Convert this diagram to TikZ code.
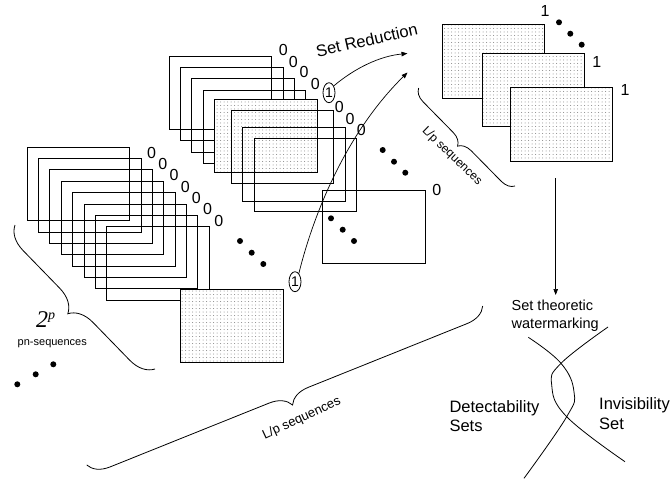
\documentclass[tikz,border=0pt]{standalone}
\usepackage{fontspec}
\setmainfont{Liberation Sans}
\newfontfamily\seriffont{Liberation Serif}
\usetikzlibrary{patterns,patterns.meta,decorations.pathreplacing,arrows.meta,shapes.geometric}
\newcommand{\fsz}[1]{\fontsize{#1}{#1}\selectfont}
\begin{document}
\begin{tikzpicture}[x=1pt,y=-1pt,
  frame/.style={draw, line width=1pt, anchor=north west, minimum width=102.5pt, minimum height=73.5pt, inner sep=0pt, outer sep=0pt},
  dotbox/.style={frame, preaction={fill=white}, pattern={Dots[distance=3.5pt, radius=0.5pt]}, pattern color=gray},
  zero/.style={font=\fsz{16}, inner sep=0pt},
  one/.style={font=\fsz{16}, inner sep=0pt},
  oval/.style={ellipse, draw, line width=0.8pt, minimum width=12pt, minimum height=20pt, inner sep=0pt, font=\fsz{14}},
  bigdot/.style={circle, fill=black, minimum size=6pt, inner sep=0pt},
  arr/.style={line width=0.7pt, -{Triangle[length=6pt,width=4.5pt]}},
  thin/.style={line width=0.8pt},
  bracestyle/.style={line width=0.8pt, decorate, decoration={brace, amplitude=#1}}
]
\useasboundingbox[fill=white] (0,0) rectangle (671,480);

% ---------- left stack ----------
\foreach \i in {0,...,7}
  \node[frame] (L\i) at ({27.3+11.34*\i},{147.3+11.34*\i}) {};
\foreach \i in {0,...,6}
  \node[zero] (LZ\i) at ({151.6+11.2*\i},{152.8+11.3*\i}) {0};
\node[dotbox] (LD) at (180.7,289.3) {};
\node[bigdot] (LB1) at (240,241) {};
\node[bigdot] (LB2) at (251.7,252.7) {};
\node[bigdot] (LB3) at (263.3,264) {};
\node[oval] (C2) at (295,281.7) {1};

% ---------- middle stack ----------
\foreach \i in {0,...,3}
  \node[frame] (M\i) at ({169.3+11.33*\i},{56+11.43*\i}) {};
\node[dotbox] (MD) at (214.7,99) {};
\node[frame] (M5) at (231.3,110) {};
\node[frame] (M6) at (242.7,127.7) {};
\node[frame] (M7) at (254.3,138.3) {};
\node[frame] (MLast) at (322.7,190) {};
\node[zero] (MZ0) at (283.3,50) {0};
\node[zero] (MZ1) at (293.3,61.7) {0};
\node[zero] (MZ2) at (304,72.3) {0};
\node[zero] (MZ3) at (315.3,84.3) {0};
\node[oval] (C1) at (329,92.7) {1};
\node[zero] (MZ5) at (339.3,106.7) {0};
\node[zero] (MZ6) at (350,119) {0};
\node[zero] (MZ7) at (361.3,130) {0};
\node[zero] (MZ8) at (436.7,190) {0};
\node[bigdot] (MB1) at (382.7,150) {};
\node[bigdot] (MB2) at (394,161.7) {};
\node[bigdot] (MB3) at (405.3,172.7) {};
\node[bigdot] (NB1) at (331,218.3) {};
\node[bigdot] (NB2) at (342.7,229.7) {};
\node[bigdot] (NB3) at (354,241) {};

% ---------- right stack ----------
\node[dotbox] (R1) at (442,24.7) {};
\node[dotbox] (R2) at (482,53.3) {};
\node[dotbox] (R3) at (510.3,87.7) {};
\node[one] (RO1) at (545,11) {1};
\node[one] (RO2) at (596.7,61.7) {1};
\node[one] (RO3) at (625,90) {1};
\node[bigdot] (RB1) at (559,22.3) {};
\node[bigdot] (RB2) at (570.3,33.7) {};
\node[bigdot] (RB3) at (581.7,44.7) {};

% ---------- set reduction arrows ----------
\node[font=\fsz{16.5}, rotate=13, inner sep=0pt] (SR) at (366.7,40) {Set Reduction};
\coordinate (T1) at (407.5,53.5);
\coordinate (T2) at (407.5,72.5);
\draw[arr] (C1.55) .. controls (355,68) and (380,56) .. (T1);
\draw[arr] (C2.65) .. controls (314,212) and (347,132) .. (T2);

% ---------- braces and labels ----------
\draw[bracestyle=24] (155,369) -- (15,225);
\node[inner sep=0pt] (TWO) at (45.5,320) {\seriffont\itshape\fsz{24}2\raisebox{8pt}{\fsz{14}p}};
\node[font=\fsz{11}, inner sep=0pt] (PN) at (52.3,343.3) {pn-sequences};
\node[bigdot] (DB1) at (17.3,384.3) {};
\node[bigdot] (DB2) at (35.7,374.3) {};
\node[bigdot] (DB3) at (53.3,364.3) {};

\draw[bracestyle=21] (482.7,306) -- (86.7,465);
\node[font=\fsz{13}, rotate=25, inner sep=0pt] (LP1) at (301.7,418.3) {L/p sequences};

\draw[bracestyle=13] (515,186) -- (418.3,87.7);
\node[font=\fsz{12}, rotate=-44, inner sep=0pt] (LP2) at (452,156) {L/p sequences};

% ---------- watermarking ----------
\coordinate (VT) at (555.7,178);
\coordinate (VB) at (555.7,295);
\draw[arr] (VT) -- (VB);
\node[font={\fontsize{14.5}{18.3}\selectfont}, align=left, anchor=west, inner sep=0pt] (STW) at (511.5,316)
  {Set theoretic\\watermarking};
\draw[thin] plot[smooth, tension=0.7] coordinates {(608,327) (561,363.3) (551.7,385) (566.7,416.7) (625,461.7)};
\draw[thin] plot[smooth, tension=0.7] coordinates {(528.3,337.3) (561,363.3) (574,392) (566.7,416.7) (524,478.3)};
\node[font={\fontsize{16.5}{18.3}\selectfont}, align=left, anchor=west, inner sep=0pt] (DS) at (449.3,416)
  {Detectability\\Sets};
\node[font={\fontsize{16.5}{20}\selectfont}, align=left, anchor=west, inner sep=0pt] (IS) at (599,413.3)
  {Invisibility\\Set};
\end{tikzpicture}
\end{document}
